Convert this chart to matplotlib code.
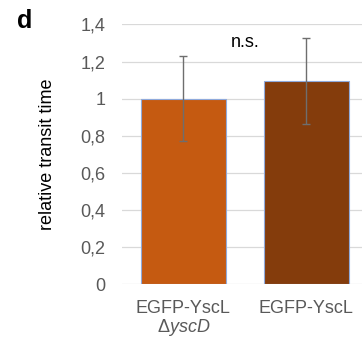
import matplotlib
matplotlib.use("Agg")
import matplotlib.pyplot as plt

plt.rcParams['font.family'] = ['Liberation Sans', 'DejaVu Sans']
plt.rcParams['mathtext.fontset'] = 'custom'
plt.rcParams['mathtext.rm'] = 'Liberation Sans'
plt.rcParams['mathtext.it'] = 'Liberation Sans:italic'

# Data
categories = ["EGFP-YscL\n$\\mathrm{\\Delta}\\mathit{yscD}$", "EGFP-YscL"]
values = [1.0, 1.095]
errors = [0.23, 0.23]
bar_colors = ["#C55A11", "#843C0C"]
y_ticks = [0, 0.2, 0.4, 0.6, 0.8, 1.0, 1.2, 1.4]
y_tick_labels = ["0", "0,2", "0,4", "0,6", "0,8", "1", "1,2", "1,4"]

fig = plt.figure(figsize=(3.62, 3.42), dpi=100)
ax = fig.add_axes([0.3365, 0.1687, 0.6796, 0.760])

x = list(range(len(categories)))
ax.bar(x, values, width=0.687, color=bar_colors, edgecolor="#8FAADC",
       linewidth=0.8, zorder=3)
ax.errorbar(x, values, yerr=errors, fmt="none", ecolor="#6E6E6E",
            elinewidth=1.0, capsize=3.0, capthick=1.0, zorder=4)

ax.set_xlim(-0.5, 1.5)
ax.set_ylim(0, 1.4)
ax.set_yticks(y_ticks)
ax.set_yticklabels(y_tick_labels)
ax.set_xticks(x)
ax.set_xticklabels(categories, linespacing=1.0)

ax.tick_params(axis="both", length=0, labelsize=13, labelcolor="#595959")
ax.tick_params(axis="y", pad=12)
ax.tick_params(axis="x", pad=11)

ax.grid(axis="y", color="#D9D9D9", linewidth=0.9, zorder=0)
ax.set_axisbelow(True)
for s in ax.spines.values():
    s.set_visible(False)

ax.set_ylabel("relative transit time", fontsize=13, color="black")
ax.yaxis.set_label_coords(-0.2675, 0.5)

ax.text(0.5, 1.305, "n.s.", ha="center", va="center", fontsize=13,
        color="black")

fig.text(0.047, 0.94, "d", fontsize=18, fontweight="bold", ha="left",
         va="center")

fig.savefig("out.png", dpi=100)
